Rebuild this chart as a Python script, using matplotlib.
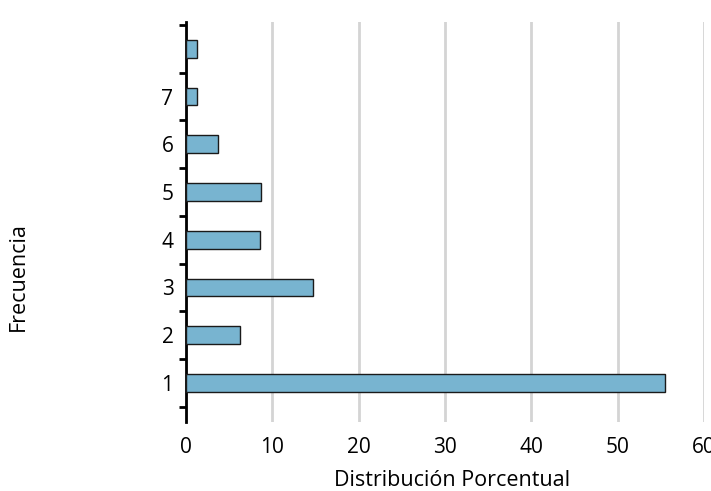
import matplotlib
matplotlib.use("Agg")
import matplotlib.pyplot as plt
import numpy as np

categories = ["1", "2", "3", "4", "5", "6", "7", ""]
values = [55.5, 6.3, 14.7, 8.6, 8.7, 3.7, 1.3, 1.3]
xticks = [0, 10, 20, 30, 40, 50, 60]

plt.rcParams['font.family'] = ['Open Sans', 'DejaVu Sans']

fig = plt.figure(figsize=(7.11, 4.91), dpi=100)
ax = fig.add_axes([0.2616, 0.1405, 0.7284, 0.8145])

pos = np.arange(len(categories))
ax.barh(pos, values, height=0.37, color="#78b4d0", edgecolor="#1a1a1a", linewidth=1.0, zorder=3)

ax.set_xlim(0, 60)
ax.set_ylim(-0.82, 7.56)
ax.set_xticks(xticks)
ax.set_xticklabels([str(t) for t in xticks], fontsize=15)
ax.tick_params(axis='x', length=0, pad=11)
ax.xaxis.grid(True, color="#d4d4d4", linewidth=2, zorder=0)

ax.set_yticks(pos)
ax.set_yticklabels(categories, fontsize=15)
ax.set_yticks(np.arange(-0.5, len(categories), 1.0), minor=True)
ax.tick_params(axis='y', which='major', length=0, pad=9)
ax.tick_params(axis='y', which='minor', length=5, width=2, direction='out', color="black")

for s in ['top', 'right', 'bottom']:
    ax.spines[s].set_visible(False)
ax.spines['left'].set_linewidth(2)

fig.text(452 / 711, 1 - 480 / 491, "Distribución Porcentual", fontsize=15.5, ha='center', va='center')
fig.text(18.5 / 711, 1 - 277 / 491, "Frecuencia", rotation=90, fontsize=15.5, ha='center', va='center')

fig.savefig("out.png", dpi=100)
